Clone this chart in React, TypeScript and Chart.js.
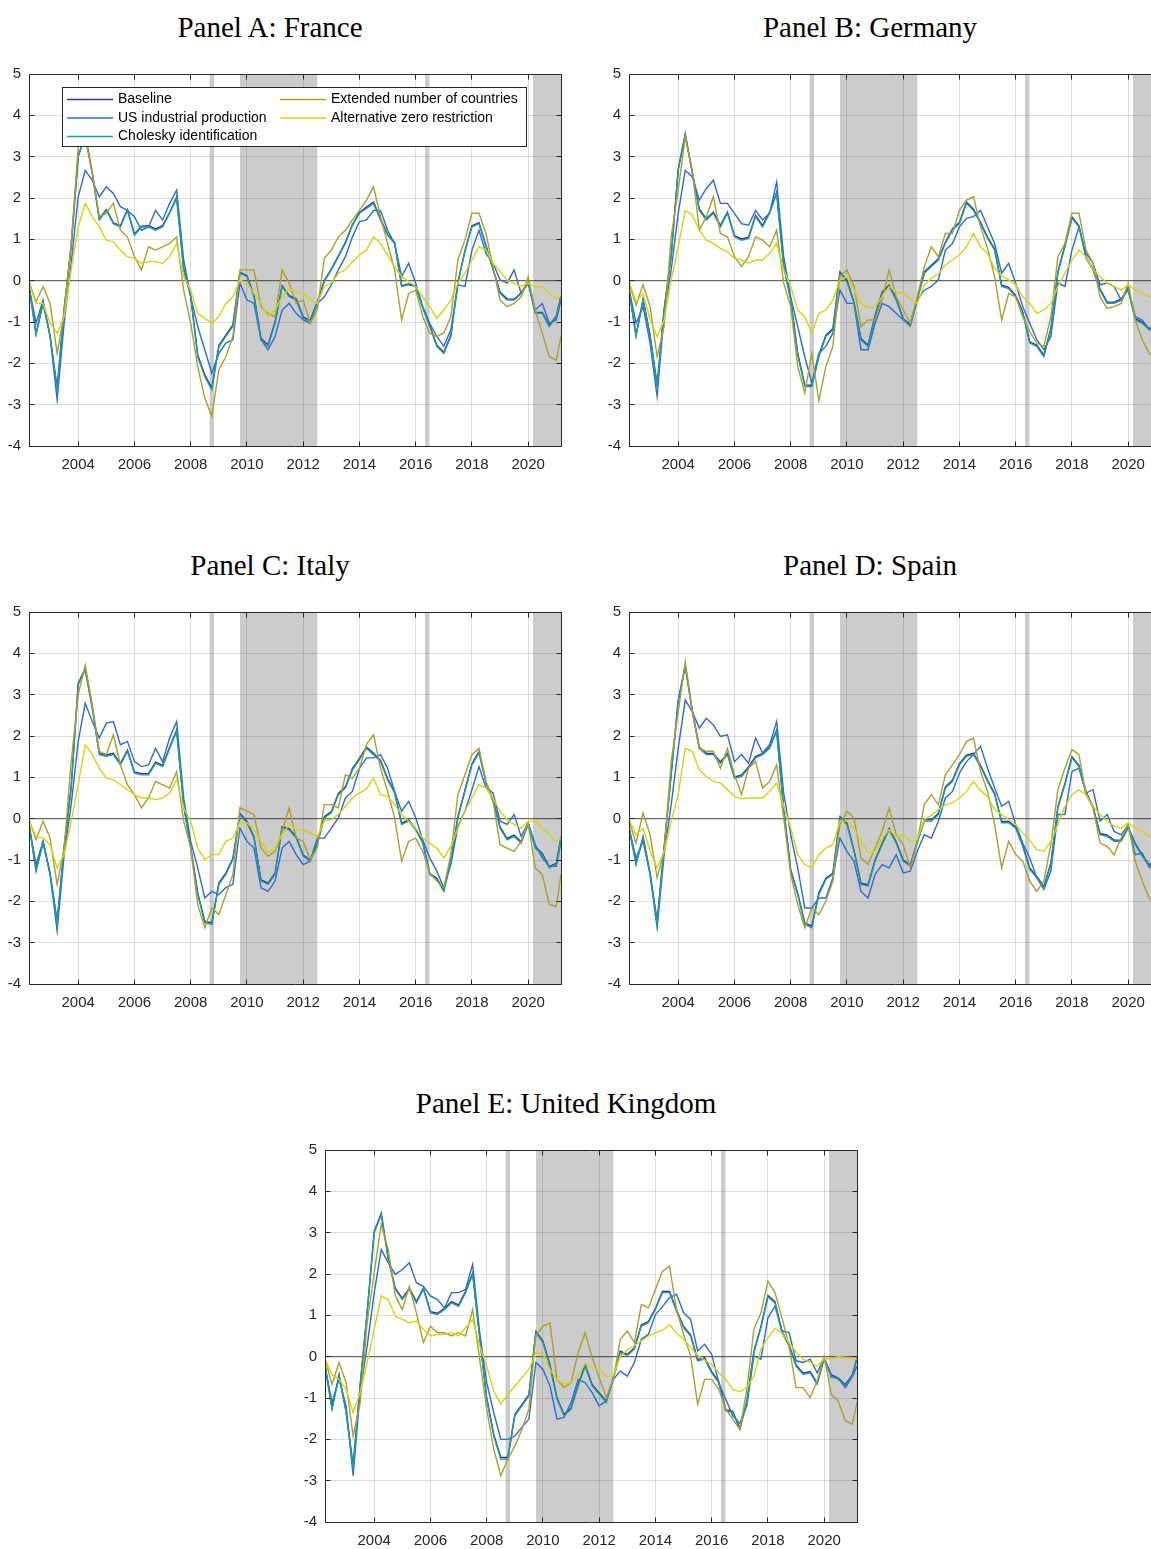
import { useEffect, useRef } from "react";
import { Chart, registerables } from "chart.js";

Chart.register(...registerables);

// ---------------------------------------------------------------------------
// Sample dates: quarterly from Apr 2002, closing with Mar 2021
// ---------------------------------------------------------------------------
const FIRST_MONTH = 2002.25;
const LAST_MONTH = 2021 + 2 / 12;
const DATES: number[] = [];
for (let i = 0; i < 76; i++) DATES.push(FIRST_MONTH + i * 0.25);
DATES.push(LAST_MONTH);

const YEAR_TICKS = [2004, 2006, 2008, 2010, 2012, 2014, 2016, 2018, 2020];
const VALUE_TICKS = [-4, -3, -2, -1, 0, 1, 2, 3, 4, 5];

// Shaded periods (start, end) in decimal years
const SHADED_PERIODS: [number, number][] = [
  [2008.67, 2008.83],
  [2009.75, 2012.5],
  [2016.33, 2016.49],
  [2020.17, LAST_MONTH],
];

const SERIES_LABELS = [
  "Baseline",
  "US industrial production",
  "Cholesky identification",
  "Extended number of countries",
  "Alternative zero restriction",
];
const SERIES_COLORS = ["#3e26a8", "#2d6ad8", "#18a09b", "#aaa02c", "#d6d40c"];

// ---------------------------------------------------------------------------
// Panel A: France
// ---------------------------------------------------------------------------
const FRANCE_BASELINE = [
  -0.13, -1.28, -0.53, -1.33, -2.6, -0.68, 0.85, 3.02, 3.52, 2.62, 1.5, 1.72, 1.4, 1.33, 1.72, 1.13, 1.32, 1.33, 1.25, 1.33, 1.65, 2.02, 0.29, -0.36, -1.8, -2.28, -2.6, -1.57, -1.32, -1.07, 0.2, 0.12, -0.36, -1.4, -1.55, -1.0, -0.12, -0.36, -0.44,
  -0.88, -0.96, -0.52, 0.0, 0.28, 0.6, 0.93, 1.36, 1.65, 1.78, 1.9, 1.5, 1.12, 0.93, -0.12, -0.08, -0.12, -0.64, -1.08, -1.56, -1.73, -1.32, -0.04, 0.72, 1.33, 1.4, 0.85, 0.28, -0.28, -0.44, -0.45, -0.29, -0.04, -0.76, -0.77, -1.08, -0.85, -0.37,
];
const FRANCE_US_IP = [
  -0.15, -1.03, -0.47, -1.35, -2.88, -1.03, 0.42, 2.03, 2.67, 2.43, 2.03, 2.27, 2.11, 1.79, 1.7, 1.55, 1.22, 1.3, 1.7, 1.47, 1.87, 2.19, 0.5, -0.39, -1.11, -1.67, -2.24, -1.76, -1.51, -1.43, -0.06, -0.47, -0.55, -1.43, -1.67, -1.35, -0.71, -0.55, -0.79,
  -0.95, -1.03, -0.55, -0.39, -0.1, 0.26, 0.58, 1.06, 1.43, 1.47, 1.7, 1.7, 1.22, 0.9, 0.1, 0.42, -0.06, -0.63, -1.03, -1.35, -1.59, -1.19, -0.1, -0.14, 0.74, 1.22, 0.66, 0.42, 0.02, -0.06, 0.26, -0.31, -0.06, -0.71, -0.55, -1.03, -0.95, -0.47,
];
const FRANCE_CHOLESKY = [
  -0.15, -1.3, -0.55, -1.35, -2.64, -0.7, 0.82, 3.0, 3.5, 2.6, 1.47, 1.7, 1.38, 1.3, 1.7, 1.1, 1.3, 1.3, 1.22, 1.3, 1.63, 1.99, 0.26, -0.39, -1.84, -2.32, -2.64, -1.6, -1.35, -1.1, 0.18, 0.1, -0.39, -1.43, -1.58, -1.03, -0.14, -0.39, -0.47,
  -0.91, -0.99, -0.55, -0.02, 0.26, 0.58, 0.9, 1.34, 1.63, 1.75, 1.87, 1.47, 1.1, 0.9, -0.14, -0.1, -0.14, -0.67, -1.11, -1.59, -1.76, -1.35, -0.06, 0.7, 1.3, 1.38, 0.82, 0.26, -0.31, -0.47, -0.47, -0.31, -0.06, -0.79, -0.79, -1.11, -0.87, -0.39,
];
const FRANCE_EXTENDED = [
  -0.02, -0.51, -0.14, -0.55, -1.76, -0.79, 0.9, 3.24, 3.48, 2.6, 1.55, 1.63, 1.87, 1.22, 1.06, 0.58, 0.26, 0.82, 0.74, 0.82, 0.9, 1.06, -0.23, -1.03, -2.08, -2.84, -3.28, -2.16, -1.84, -1.35, 0.26, 0.26, 0.26, -0.63, -0.79, -0.87, 0.26, -0.06, -0.55,
  -0.47, -1.03, -0.71, 0.54, 0.74, 1.06, 1.22, 1.47, 1.7, 1.95, 2.27, 1.55, 0.9, 0.26, -0.95, -0.31, -0.23, -0.87, -1.27, -1.35, -1.27, -0.87, 0.5, 0.98, 1.63, 1.63, 1.14, 0.34, -0.47, -0.63, -0.55, -0.39, 0.1, -0.71, -1.27, -1.84, -1.92, -1.35,
];
const FRANCE_ALT_ZERO = [
  -0.06, -0.55, -0.55, -1.03, -1.27, -0.87, 0.26, 1.3, 1.87, 1.55, 1.3, 0.98, 0.94, 0.74, 0.58, 0.54, 0.42, 0.46, 0.46, 0.42, 0.58, 0.9, 0.1, -0.23, -0.79, -0.91, -1.03, -0.87, -0.55, -0.39, 0.02, -0.06, -0.31, -0.55, -0.87, -0.71, -0.39, -0.19, -0.27,
  -0.31, -0.47, -0.55, -0.14, -0.06, 0.18, 0.26, 0.46, 0.62, 0.74, 1.06, 0.9, 0.62, 0.34, 0.1, -0.02, -0.14, -0.39, -0.63, -0.91, -0.71, -0.47, -0.06, 0.18, 0.5, 0.82, 0.74, 0.42, 0.22, 0.02, -0.06, -0.14, -0.06, -0.14, -0.14, -0.31, -0.43, -0.39,
];

// ---------------------------------------------------------------------------
// Panel B: Germany
// ---------------------------------------------------------------------------
const GERMANY_BASELINE = [
  -0.21, -1.32, -0.45, -1.32, -2.52, -0.68, 0.61, 2.7, 3.55, 2.63, 1.73, 1.5, 1.66, 1.33, 1.66, 1.09, 1.01, 1.05, 1.58, 1.33, 1.66, 2.14, 0.37, -0.44, -1.76, -2.52, -2.53, -1.8, -1.32, -1.16, 0.21, 0.01, -0.52, -1.4, -1.56, -0.84, -0.28, -0.11, -0.44,
  -0.92, -1.08, -0.44, 0.21, 0.37, 0.53, 0.93, 1.25, 1.41, 1.9, 1.73, 1.41, 1.05, 0.77, -0.11, -0.16, -0.36, -0.76, -1.48, -1.56, -1.8, -1.16, 0.21, 0.85, 1.54, 1.33, 0.57, 0.29, -0.2, -0.52, -0.52, -0.44, -0.2, -0.92, -1.0, -1.16, -1.07, -1.17,
];
const GERMANY_US_IP = [
  -0.19, -1.03, -0.63, -1.51, -2.8, -0.79, 0.26, 1.63, 2.67, 2.51, 1.95, 2.23, 2.43, 1.87, 1.87, 1.63, 1.38, 1.34, 1.7, 1.47, 1.63, 2.39, 0.58, -0.39, -1.11, -1.84, -2.48, -1.76, -1.59, -1.27, -0.23, -0.55, -0.55, -1.67, -1.67, -1.03, -0.55, -0.63, -0.79,
  -0.95, -1.03, -0.47, -0.23, -0.14, 0.02, 0.74, 0.9, 1.3, 1.51, 1.55, 1.7, 1.3, 0.9, 0.18, 0.42, -0.06, -0.63, -1.03, -1.43, -1.67, -1.35, -0.06, -0.14, 0.74, 1.3, 0.66, 0.42, -0.1, -0.06, -0.14, -0.47, -0.14, -0.87, -0.95, -1.19, -1.0, -1.1,
];
const GERMANY_CHOLESKY = [
  -0.23, -1.35, -0.47, -1.35, -2.56, -0.71, 0.58, 2.67, 3.52, 2.6, 1.7, 1.47, 1.63, 1.3, 1.63, 1.06, 0.98, 1.02, 1.55, 1.3, 1.63, 2.11, 0.34, -0.47, -1.8, -2.56, -2.56, -1.84, -1.35, -1.19, 0.18, -0.02, -0.55, -1.43, -1.59, -0.87, -0.31, -0.14, -0.47,
  -0.95, -1.11, -0.47, 0.18, 0.34, 0.5, 0.9, 1.22, 1.38, 1.87, 1.7, 1.38, 1.02, 0.74, -0.14, -0.19, -0.39, -0.79, -1.51, -1.59, -1.84, -1.19, 0.18, 0.82, 1.51, 1.3, 0.54, 0.26, -0.23, -0.55, -0.55, -0.47, -0.23, -0.95, -1.03, -1.19, -1.1, -1.2,
];
const GERMANY_EXTENDED = [
  -0.06, -0.59, -0.1, -0.63, -1.84, -1.11, 1.06, 2.19, 3.48, 2.67, 1.22, 1.55, 2.03, 1.14, 1.06, 0.58, 0.34, 0.58, 1.06, 0.98, 0.82, 1.22, -0.06, -0.63, -2.08, -2.72, -1.76, -2.9, -2.08, -1.59, 0.1, 0.26, -0.14, -1.11, -0.95, -0.95, -0.47, 0.26, -0.39,
  -0.71, -1.03, -0.39, 0.34, 0.82, 0.58, 1.14, 1.14, 1.7, 1.95, 2.03, 1.3, 0.78, 0.1, -0.95, -0.31, -0.39, -0.87, -1.23, -1.51, -1.59, -0.87, 0.58, 0.9, 1.63, 1.63, 0.74, 0.42, -0.39, -0.67, -0.63, -0.55, -0.06, -0.95, -1.43, -1.76, -1.9, -1.5,
];
const GERMANY_ALT_ZERO = [
  -0.02, -0.51, -0.31, -0.95, -1.35, -0.95, 0.02, 0.82, 1.7, 1.59, 1.22, 0.98, 0.9, 0.78, 0.7, 0.54, 0.5, 0.42, 0.5, 0.5, 0.66, 0.9, 0.26, -0.14, -0.71, -0.87, -1.27, -0.79, -0.71, -0.47, 0.02, 0.1, -0.23, -0.55, -0.67, -0.63, -0.39, -0.14, -0.27,
  -0.31, -0.43, -0.55, -0.1, 0.06, 0.16, 0.38, 0.5, 0.62, 0.82, 1.14, 0.82, 0.66, 0.3, 0.11, 0.02, -0.1, -0.39, -0.55, -0.79, -0.71, -0.55, -0.14, 0.18, 0.5, 0.74, 0.58, 0.26, 0.1, -0.06, -0.14, -0.23, -0.1, -0.23, -0.31, -0.39, -0.35, -0.45,
];

// ---------------------------------------------------------------------------
// Panel C: Italy
// ---------------------------------------------------------------------------
const ITALY_BASELINE = [
  -0.13, -1.24, -0.56, -1.32, -2.48, -0.68, 0.77, 3.27, 3.63, 2.7, 1.58, 1.54, 1.58, 1.33, 1.66, 1.13, 1.09, 1.09, 1.37, 1.29, 1.73, 2.14, 0.33, -0.68, -1.8, -2.48, -2.52, -1.56, -1.32, -0.96, 0.13, -0.07, -0.44, -1.48, -1.56, -1.32, -0.2, -0.24, -0.44,
  -0.88, -1.0, -0.6, 0.05, 0.17, 0.61, 0.77, 1.21, 1.46, 1.73, 1.58, 1.41, 0.97, 0.65, -0.11, -0.03, -0.24, -0.56, -1.32, -1.44, -1.73, -1.0, 0.05, 0.69, 1.33, 1.62, 0.89, 0.45, -0.2, -0.48, -0.4, -0.56, -0.11, -0.68, -0.84, -1.16, -1.08, -0.44,
];
const ITALY_US_IP = [
  -0.15, -1.11, -0.55, -1.35, -2.72, -0.87, 0.34, 1.87, 2.79, 2.35, 1.95, 2.31, 2.35, 1.79, 1.87, 1.38, 1.26, 1.3, 1.7, 1.38, 1.95, 2.35, 0.5, -0.55, -1.19, -1.92, -1.76, -1.84, -1.67, -1.59, -0.23, -0.55, -0.71, -1.67, -1.76, -1.51, -0.71, -0.55, -0.87,
  -1.11, -1.03, -0.47, -0.47, -0.23, 0.02, 0.5, 0.66, 1.22, 1.47, 1.47, 1.55, 1.22, 0.66, 0.18, 0.42, 0.02, -0.51, -0.95, -1.27, -1.67, -1.11, -0.19, 0.18, 0.7, 1.26, 0.74, 0.62, -0.06, -0.14, 0.1, -0.43, -0.1, -0.63, -0.95, -1.15, -1.15, -0.55,
];
const ITALY_CHOLESKY = [
  -0.15, -1.27, -0.59, -1.35, -2.52, -0.71, 0.74, 3.24, 3.6, 2.67, 1.55, 1.51, 1.55, 1.3, 1.63, 1.1, 1.06, 1.06, 1.34, 1.26, 1.7, 2.11, 0.3, -0.71, -1.84, -2.52, -2.56, -1.59, -1.35, -0.99, 0.1, -0.1, -0.47, -1.51, -1.59, -1.35, -0.23, -0.27, -0.47,
  -0.91, -1.03, -0.63, 0.02, 0.14, 0.58, 0.74, 1.18, 1.43, 1.7, 1.55, 1.38, 0.94, 0.62, -0.14, -0.06, -0.27, -0.59, -1.35, -1.47, -1.76, -1.03, 0.02, 0.66, 1.3, 1.59, 0.86, 0.42, -0.23, -0.51, -0.43, -0.59, -0.14, -0.71, -0.87, -1.19, -1.11, -0.47,
];
const ITALY_EXTENDED = [
  -0.02, -0.51, -0.06, -0.47, -1.59, -0.71, 1.38, 3.0, 3.72, 2.75, 1.63, 1.55, 2.03, 1.3, 0.82, 0.58, 0.26, 0.5, 0.9, 0.82, 0.74, 1.14, -0.06, -0.71, -2.08, -2.64, -2.16, -2.32, -1.84, -1.35, 0.26, 0.18, 0.1, -0.71, -0.91, -0.79, -0.31, 0.26, -0.47,
  -0.55, -0.99, -0.71, 0.34, 0.34, 0.26, 1.06, 0.98, 1.22, 1.79, 2.03, 1.22, 0.66, 0.02, -1.03, -0.55, -0.47, -0.79, -1.31, -1.51, -1.67, -0.87, 0.58, 1.06, 1.55, 1.7, 0.9, 0.42, -0.63, -0.71, -0.79, -0.55, -0.1, -1.19, -1.35, -2.08, -2.12, -1.35,
];
const ITALY_ALT_ZERO = [
  -0.06, -0.43, -0.47, -0.63, -1.19, -0.87, -0.06, 0.82, 1.79, 1.55, 1.22, 0.98, 0.94, 0.82, 0.7, 0.58, 0.5, 0.5, 0.46, 0.5, 0.62, 0.94, 0.26, -0.06, -0.71, -0.99, -0.87, -0.87, -0.55, -0.47, -0.1, -0.1, -0.27, -0.55, -0.83, -0.71, -0.39, -0.14, -0.27,
  -0.27, -0.35, -0.43, -0.06, -0.02, 0.1, 0.3, 0.5, 0.62, 0.72, 0.98, 0.58, 0.54, 0.34, 0.1, -0.06, -0.23, -0.47, -0.59, -0.71, -0.95, -0.67, -0.23, 0.18, 0.5, 0.82, 0.74, 0.5, 0.18, -0.02, -0.14, -0.23, -0.06, -0.06, -0.23, -0.39, -0.55, -0.47,
];

// ---------------------------------------------------------------------------
// Panel D: Spain
// ---------------------------------------------------------------------------
const SPAIN_BASELINE = [
  -0.21, -1.08, -0.44, -1.32, -2.48, -0.68, 1.09, 2.86, 3.71, 2.62, 1.73, 1.58, 1.58, 1.37, 1.58, 1.01, 1.05, 1.25, 1.5, 1.58, 1.73, 2.14, 0.25, -1.24, -1.8, -2.52, -2.6, -1.8, -1.44, -1.32, 0.05, -0.11, -0.76, -1.56, -1.6, -1.0, -0.6, -0.24, -0.56,
  -1.0, -1.12, -0.56, -0.03, -0.03, 0.13, 0.77, 0.93, 1.33, 1.54, 1.58, 1.29, 0.93, 0.61, -0.07, -0.07, -0.2, -0.64, -1.2, -1.4, -1.64, -1.08, 0.29, 0.85, 1.5, 1.29, 0.65, 0.29, -0.36, -0.4, -0.52, -0.52, -0.2, -0.6, -0.88, -1.12, -0.97, -1.17,
];
const SPAIN_US_IP = [
  -0.23, -0.95, -0.55, -1.35, -2.64, -0.87, 0.34, 1.7, 2.87, 2.59, 2.19, 2.43, 2.27, 1.99, 2.03, 1.38, 1.55, 1.34, 1.95, 1.59, 1.79, 2.35, 0.62, -0.39, -1.19, -2.16, -2.16, -1.92, -1.92, -1.43, -0.47, -0.79, -1.03, -1.76, -1.92, -1.35, -1.11, -1.19, -0.87,
  -1.31, -1.27, -0.79, -0.39, -0.47, -0.06, 0.5, 0.66, 1.1, 1.38, 1.55, 1.75, 1.22, 0.74, 0.3, 0.42, -0.14, -0.59, -0.95, -1.43, -1.71, -1.27, 0.1, 0.1, 1.14, 1.22, 0.62, 0.7, -0.06, 0.1, -0.31, -0.39, -0.14, -0.87, -0.83, -1.19, -1.0, -1.1,
];
const SPAIN_CHOLESKY = [
  -0.23, -1.11, -0.47, -1.35, -2.52, -0.71, 1.06, 2.83, 3.68, 2.59, 1.7, 1.55, 1.55, 1.34, 1.55, 0.98, 1.02, 1.22, 1.47, 1.55, 1.7, 2.11, 0.22, -1.27, -1.84, -2.56, -2.64, -1.84, -1.47, -1.35, 0.02, -0.14, -0.79, -1.59, -1.63, -1.03, -0.63, -0.27, -0.59,
  -1.03, -1.15, -0.59, -0.06, -0.06, 0.1, 0.74, 0.9, 1.3, 1.51, 1.55, 1.26, 0.9, 0.58, -0.1, -0.1, -0.23, -0.67, -1.23, -1.43, -1.67, -1.11, 0.26, 0.82, 1.47, 1.26, 0.62, 0.26, -0.39, -0.43, -0.55, -0.55, -0.23, -0.63, -0.91, -1.15, -1.0, -1.2,
];
const SPAIN_EXTENDED = [
  -0.06, -0.59, 0.14, -0.39, -1.43, -0.79, 1.38, 2.59, 3.8, 2.59, 1.7, 1.63, 1.63, 1.22, 1.7, 1.06, 0.58, 1.22, 1.38, 0.74, 0.9, 1.3, 0.02, -1.35, -2.08, -2.64, -2.16, -2.32, -2.0, -1.51, -0.14, 0.18, 0.02, -0.95, -1.11, -0.71, -0.31, 0.26, -0.39,
  -0.63, -1.19, -0.55, 0.34, 0.58, 0.34, 1.06, 1.3, 1.55, 1.87, 1.95, 1.14, 0.66, -0.14, -1.19, -0.55, -0.87, -1.03, -1.51, -1.76, -1.51, -0.63, 0.7, 1.22, 1.67, 1.55, 0.58, 0.26, -0.59, -0.67, -0.87, -0.47, -0.14, -1.03, -1.51, -1.92, -2.1, -1.8,
];
const SPAIN_ALT_ZERO = [
  -0.02, -0.39, -0.23, -0.79, -1.19, -0.79, -0.06, 0.58, 1.7, 1.63, 1.18, 1.02, 0.9, 0.86, 0.7, 0.54, 0.48, 0.5, 0.5, 0.5, 0.66, 0.86, 0.3, -0.23, -0.87, -1.11, -1.19, -0.87, -0.71, -0.63, -0.06, -0.06, -0.23, -0.55, -0.83, -0.79, -0.47, -0.27, -0.43,
  -0.39, -0.55, -0.51, -0.02, 0.08, 0.22, 0.34, 0.38, 0.5, 0.66, 0.9, 0.68, 0.54, 0.22, 0.1, -0.02, -0.14, -0.35, -0.52, -0.75, -0.79, -0.55, -0.14, 0.3, 0.58, 0.7, 0.58, 0.3, 0.1, -0.06, -0.18, -0.23, -0.1, -0.23, -0.31, -0.43, -0.45, -0.5,
];

// ---------------------------------------------------------------------------
// Panel E: United Kingdom
// ---------------------------------------------------------------------------
const UK_BASELINE = [
  -0.21, -1.24, -0.44, -1.32, -2.64, -0.68, 1.09, 3.03, 3.47, 2.38, 1.66, 1.41, 1.66, 1.33, 1.66, 1.09, 1.05, 1.17, 1.33, 1.25, 1.58, 2.02, 0.49, -1.0, -1.88, -2.44, -2.44, -1.4, -1.16, -0.92, 0.61, 0.37, -0.2, -1.0, -1.4, -1.24, -0.68, -0.2, -0.68,
  -0.88, -1.08, -0.52, 0.13, 0.06, 0.21, 0.77, 0.85, 1.17, 1.58, 1.58, 1.13, 0.73, 0.53, -0.07, -0.03, -0.36, -0.6, -1.28, -1.32, -1.73, -1.08, 0.13, 0.73, 1.48, 1.33, 0.61, 0.29, -0.2, -0.4, -0.36, -0.64, -0.03, -0.44, -0.52, -0.68, -0.44, -0.03,
];
const UK_US_IP = [
  -0.23, -1.11, -0.55, -1.19, -2.88, -0.87, 0.26, 1.55, 2.59, 2.27, 1.99, 2.11, 2.27, 1.79, 1.7, 1.47, 1.38, 1.18, 1.55, 1.55, 1.63, 2.23, 0.58, -0.63, -1.35, -2.0, -2.0, -1.92, -1.71, -1.51, -0.14, -0.31, -0.71, -1.51, -1.47, -1.11, -0.55, -0.63, -0.87,
  -1.19, -1.07, -0.55, -0.35, -0.47, -0.14, 0.42, 0.54, 1.02, 1.21, 1.43, 1.51, 1.06, 0.9, 0.14, 0.3, 0.06, -0.63, -1.03, -1.43, -1.61, -1.19, 0.02, -0.06, 0.94, 1.22, 0.62, 0.58, -0.1, -0.14, -0.06, -0.39, -0.02, -0.5, -0.51, -0.75, -0.49, -0.23,
];
const UK_CHOLESKY = [
  -0.23, -1.27, -0.47, -1.35, -2.68, -0.71, 1.06, 3.0, 3.44, 2.35, 1.63, 1.38, 1.63, 1.3, 1.63, 1.06, 1.02, 1.14, 1.3, 1.22, 1.55, 1.99, 0.46, -1.03, -1.92, -2.48, -2.48, -1.43, -1.19, -0.95, 0.58, 0.34, -0.23, -1.03, -1.43, -1.27, -0.71, -0.23, -0.71,
  -0.91, -1.11, -0.55, 0.1, 0.03, 0.18, 0.74, 0.82, 1.14, 1.55, 1.55, 1.1, 0.7, 0.5, -0.1, -0.06, -0.39, -0.63, -1.31, -1.35, -1.76, -1.11, 0.1, 0.7, 1.45, 1.3, 0.58, 0.26, -0.23, -0.43, -0.39, -0.67, -0.06, -0.47, -0.55, -0.71, -0.47, -0.06,
];
const UK_EXTENDED = [
  -0.06, -0.67, -0.14, -0.63, -1.92, -1.11, 0.82, 2.03, 3.2, 2.59, 1.47, 1.14, 1.7, 1.06, 0.34, 0.74, 0.58, 0.58, 0.5, 0.58, 0.5, 1.14, -0.06, -1.27, -2.24, -2.88, -2.48, -2.16, -1.76, -1.27, 0.5, 0.74, 0.82, -0.55, -0.75, -0.63, 0.1, 0.58, -0.02,
  -0.51, -0.99, -0.55, 0.42, 0.62, 0.34, 1.26, 1.18, 1.63, 2.07, 2.19, 1.14, 0.54, 0.02, -1.15, -0.55, -0.55, -0.79, -1.27, -1.51, -1.76, -0.79, 0.66, 1.06, 1.83, 1.55, 0.94, 0.26, -0.75, -0.75, -0.99, -0.59, 0.02, -0.91, -1.07, -1.55, -1.63, -1.11,
];
const UK_ALT_ZERO = [
  -0.06, -0.43, -0.55, -0.79, -1.35, -0.87, -0.14, 0.66, 1.47, 1.38, 0.98, 0.9, 0.82, 0.86, 0.66, 0.5, 0.54, 0.54, 0.58, 0.5, 0.7, 0.9, 0.26, -0.23, -0.83, -1.15, -0.91, -0.71, -0.51, -0.31, 0.1, 0.06, -0.31, -0.55, -0.67, -0.63, -0.47, -0.16, -0.27,
  -0.29, -0.48, -0.47, 0.02, 0.16, 0.27, 0.38, 0.5, 0.58, 0.64, 0.78, 0.56, 0.42, 0.22, 0.03, -0.08, -0.19, -0.39, -0.55, -0.79, -0.85, -0.75, -0.47, 0.18, 0.46, 0.68, 0.58, 0.34, 0.11, -0.06, -0.14, -0.23, -0.05, -0.05, 0.0, -0.02, -0.06, -0.06,
];

// ---------------------------------------------------------------------------
// Layout and styling
// ---------------------------------------------------------------------------
const CANVAS_W = 575;
const CANVAS_H = 420;
const PLOT_TOP = 10;
const Y_AXIS_W = 29;
const X_AXIS_H = 38;
const PLOT_RIGHT_PAD = 14;
const TICK_LEN = 5;

const AXIS_COLOR = "#262626";
const GRID_COLOR = "rgba(38,38,38,0.15)";
const SHADE_COLOR = "#cccccc";
const ZERO_LINE_COLOR = "rgba(60,60,60,0.75)";
const SANS = "'Liberation Sans', Arial, Helvetica, sans-serif";
const SERIF = "'Liberation Serif', 'Times New Roman', serif";

type PanelSpec = {
  title: string;
  left: number;
  top: number;
  series: number[][];
  legend?: boolean;
};

const PANELS: PanelSpec[] = [
  {
    title: "Panel A: France",
    left: 0,
    top: 64,
    series: [FRANCE_BASELINE, FRANCE_US_IP, FRANCE_CHOLESKY, FRANCE_EXTENDED, FRANCE_ALT_ZERO],
    legend: true,
  },
  {
    title: "Panel B: Germany",
    left: 600,
    top: 64,
    series: [GERMANY_BASELINE, GERMANY_US_IP, GERMANY_CHOLESKY, GERMANY_EXTENDED, GERMANY_ALT_ZERO],
  },
  {
    title: "Panel C: Italy",
    left: 0,
    top: 602,
    series: [ITALY_BASELINE, ITALY_US_IP, ITALY_CHOLESKY, ITALY_EXTENDED, ITALY_ALT_ZERO],
  },
  {
    title: "Panel D: Spain",
    left: 600,
    top: 602,
    series: [SPAIN_BASELINE, SPAIN_US_IP, SPAIN_CHOLESKY, SPAIN_EXTENDED, SPAIN_ALT_ZERO],
  },
  {
    title: "Panel E: United Kingdom",
    left: 296,
    top: 1140,
    series: [UK_BASELINE, UK_US_IP, UK_CHOLESKY, UK_EXTENDED, UK_ALT_ZERO],
  },
];

const crisp = (p: number) => Math.round(p - 0.5) + 0.5;

// Recession-style shaded bands, painted below the grid
const shadePlugin = {
  id: "shadedPeriods",
  beforeDraw(chart: any) {
    const { ctx, chartArea: a, scales } = chart;
    const x = scales.x;
    ctx.save();
    ctx.fillStyle = SHADE_COLOR;
    for (const [s, e] of SHADED_PERIODS) {
      const x0 = Math.max(a.left, x.getPixelForValue(s));
      const x1 = Math.min(a.right, x.getPixelForValue(e));
      if (x1 > x0) ctx.fillRect(x0, a.top, x1 - x0, a.bottom - a.top);
    }
    ctx.restore();
  },
};

// Horizontal reference line at zero
const zeroLinePlugin = {
  id: "zeroLine",
  beforeDatasetsDraw(chart: any) {
    const { ctx, chartArea: a, scales } = chart;
    const y0 = scales.y.getPixelForValue(0);
    ctx.save();
    ctx.strokeStyle = ZERO_LINE_COLOR;
    ctx.lineWidth = 1.2;
    ctx.beginPath();
    ctx.moveTo(a.left, y0);
    ctx.lineTo(a.right, y0);
    ctx.stroke();
    ctx.restore();
  },
};

// Boxed axes with inward tick marks on all four sides
const framePlugin = {
  id: "axesFrame",
  afterDatasetsDraw(chart: any) {
    const { ctx, chartArea: a, scales } = chart;
    const L = crisp(a.left);
    const R = crisp(a.right);
    const T = crisp(a.top);
    const B = crisp(a.bottom);
    ctx.save();
    ctx.strokeStyle = AXIS_COLOR;
    ctx.lineWidth = 1;
    ctx.beginPath();
    ctx.rect(L, T, R - L, B - T);
    for (const v of YEAR_TICKS) {
      const px = crisp(scales.x.getPixelForValue(v));
      ctx.moveTo(px, B);
      ctx.lineTo(px, B - TICK_LEN);
      ctx.moveTo(px, T);
      ctx.lineTo(px, T + TICK_LEN);
    }
    for (const v of VALUE_TICKS) {
      const py = crisp(scales.y.getPixelForValue(v));
      ctx.moveTo(L, py);
      ctx.lineTo(L + TICK_LEN, py);
      ctx.moveTo(R, py);
      ctx.lineTo(R - TICK_LEN, py);
    }
    ctx.stroke();
    ctx.restore();
  },
};

// Two-column boxed legend drawn inside the plot area
const boxedLegendPlugin = {
  id: "boxedLegend",
  afterDraw(chart: any) {
    const { ctx } = chart;
    const bx = 62.5;
    const by = 23.5;
    const bw = 464;
    const bh = 59;
    ctx.save();
    ctx.fillStyle = "#ffffff";
    ctx.fillRect(bx, by, bw, bh);
    ctx.strokeStyle = AXIS_COLOR;
    ctx.lineWidth = 1;
    ctx.strokeRect(bx, by, bw, bh);
    ctx.font = `14px ${SANS}`;
    ctx.textBaseline = "middle";
    ctx.textAlign = "left";
    chart.data.datasets.forEach((ds: any, i: number) => {
      const col = i < 3 ? 0 : 1;
      const row = i < 3 ? i : i - 3;
      const lx = col === 0 ? 67 : 280;
      const ly = 35.5 + row * 18.5;
      ctx.strokeStyle = ds.borderColor;
      ctx.lineWidth = 1.4;
      ctx.beginPath();
      ctx.moveTo(lx, ly);
      ctx.lineTo(lx + 46, ly);
      ctx.stroke();
      ctx.fillStyle = "#000000";
      ctx.fillText(ds.label, lx + 51, ly);
    });
    ctx.restore();
  },
};

function Panel({ spec }: { spec: PanelSpec }) {
  const ref = useRef<HTMLCanvasElement | null>(null);

  useEffect(() => {
    const canvas = ref.current;
    if (!canvas) return;
    const datasets = spec.series.map((values, i) => ({
      label: SERIES_LABELS[i],
      data: values.map((y, k) => ({ x: DATES[k], y })),
      borderColor: SERIES_COLORS[i],
      backgroundColor: SERIES_COLORS[i],
      borderWidth: 1.4,
      pointRadius: 0,
      pointHoverRadius: 0,
      fill: false,
      tension: 0,
      order: SERIES_LABELS.length - i,
    }));

    const plugins: any[] = [shadePlugin, zeroLinePlugin, framePlugin];
    if (spec.legend) plugins.push(boxedLegendPlugin);

    const chart = new Chart(canvas, {
      type: "line",
      data: { datasets },
      plugins,
      options: {
        animation: false,
        responsive: false,
        devicePixelRatio: 1,
        events: [],
        layout: { padding: { left: 0, top: PLOT_TOP, right: PLOT_RIGHT_PAD, bottom: 0 } },
        plugins: {
          legend: { display: false },
          tooltip: { enabled: false },
          title: { display: false },
        },
        scales: {
          x: {
            type: "linear",
            min: FIRST_MONTH,
            max: LAST_MONTH,
            afterBuildTicks: (scale: any) => {
              scale.ticks = YEAR_TICKS.map((value) => ({ value }));
            },
            afterFit: (scale: any) => {
              scale.height = X_AXIS_H;
              scale.paddingLeft = 0;
              scale.paddingRight = 0;
            },
            grid: { color: GRID_COLOR, lineWidth: 1, drawTicks: false },
            border: { display: false },
            ticks: {
              autoSkip: false,
              maxRotation: 0,
              padding: 10,
              color: AXIS_COLOR,
              font: { family: SANS, size: 15 },
              callback: (v: any) => String(v),
            },
          },
          y: {
            type: "linear",
            min: -4,
            max: 5,
            afterBuildTicks: (scale: any) => {
              scale.ticks = VALUE_TICKS.map((value) => ({ value }));
            },
            afterFit: (scale: any) => {
              scale.width = Y_AXIS_W;
              scale.paddingTop = 0;
              scale.paddingBottom = 0;
            },
            grid: { color: GRID_COLOR, lineWidth: 1, drawTicks: false },
            border: { display: false },
            ticks: {
              padding: 8,
              color: AXIS_COLOR,
              font: { family: SANS, size: 15 },
              callback: (v: any) => String(v),
            },
          },
        },
      } as any,
    });
    return () => chart.destroy();
  }, [spec]);

  return (
    <>
      <div
        style={{
          position: "absolute",
          left: spec.left + 70,
          top: spec.top - 51,
          width: 400,
          textAlign: "center",
          fontFamily: SERIF,
          fontSize: 29,
          lineHeight: "29px",
          color: "#000",
          whiteSpace: "nowrap",
        }}
      >
        {spec.title}
      </div>
      <canvas
        ref={ref}
        width={CANVAS_W}
        height={CANVAS_H}
        style={{
          position: "absolute",
          left: spec.left,
          top: spec.top,
          width: CANVAS_W,
          height: CANVAS_H,
        }}
      />
    </>
  );
}

export default function App() {
  return (
    <div
      style={{
        position: "absolute",
        left: 0,
        top: 0,
        width: 1151,
        height: 1549,
        overflow: "hidden",
        background: "#ffffff",
      }}
    >
      {PANELS.map((p) => (
        <Panel key={p.title} spec={p} />
      ))}
    </div>
  );
}
